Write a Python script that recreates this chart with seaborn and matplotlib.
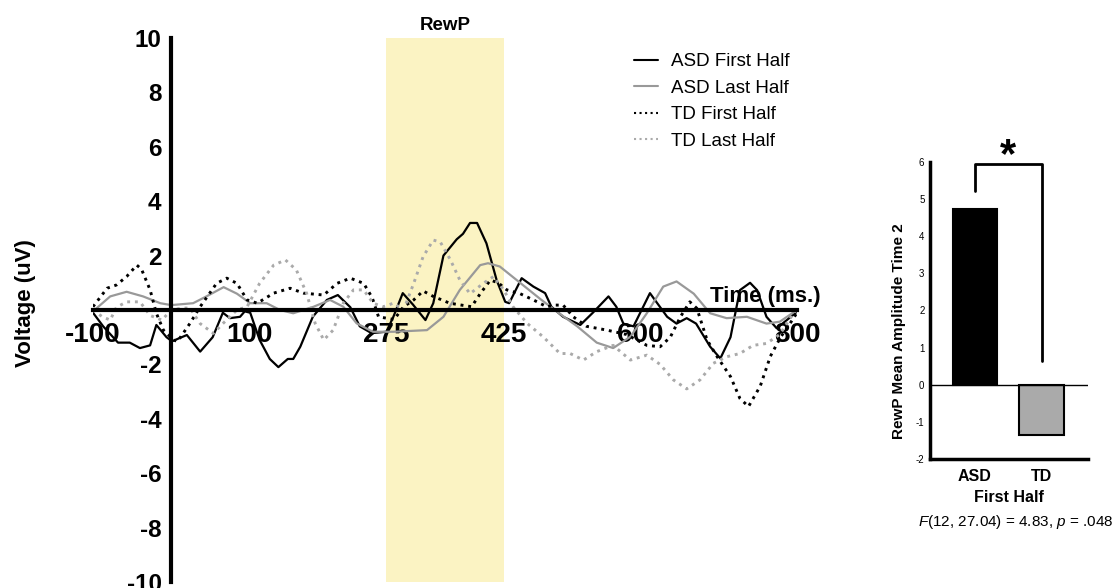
import numpy as np
import pandas as pd
import matplotlib
matplotlib.use('Agg')
import matplotlib.pyplot as plt
import seaborn as sns

# ERP waveforms (time in ms, voltage in uV)
asd_first_t = [-100, -87, -68, -53, -40, -27, -19, -6, 1, 20, 37, 53, 66, 75, 88, 94, 101, 113,
               126, 137, 149, 156, 165, 181, 199, 213, 229, 241, 256, 275, 284, 296, 309, 325,
               335, 348, 365, 373, 382, 391, 403, 416, 427, 432, 448, 463, 478, 486, 501, 523,
               539, 559, 569, 578, 591, 612, 634, 646, 659, 671, 689, 702, 715, 727, 740, 749,
               761, 774, 787, 800]
asd_first_v = [-0.1, -0.6, -1.2, -1.2, -1.4, -1.3, -0.55, -1.0, -1.15, -0.92, -1.53, -1.0, -0.1,
               -0.3, -0.25, -0.05, -0.1, -1.1, -1.8, -2.1, -1.8, -1.8, -1.35, -0.25, 0.37, 0.55,
               0.1, -0.6, -0.85, -0.8, -0.25, 0.62, 0.2, -0.37, 0.25, 2.0, 2.6, 2.8, 3.2, 3.2,
               2.45, 1.1, 0.3, 0.25, 1.17, 0.86, 0.62, 0.12, -0.25, -0.55, -0.1, 0.5, 0.12,
               -0.5, -0.6, 0.62, -0.25, -0.5, -0.3, -0.5, -1.35, -1.78, -1.0, 0.73, 1.0, 0.73,
               -0.25, -0.67, -0.37, -0.06]

asd_last_t = [-100, -78, -57, -36, -14, 0, 28, 45, 67, 84, 101, 122, 139, 156, 182, 203, 220,
              237, 258, 284, 327, 348, 369, 395, 405, 420, 446, 472, 493, 519, 544, 565, 587,
              608, 629, 646, 668, 689, 710, 736, 761, 778, 800]
asd_last_v = [-0.05, 0.5, 0.67, 0.5, 0.25, 0.18, 0.25, 0.5, 0.84, 0.6, 0.25, 0.25, 0.0, -0.12,
              0.12, 0.37, 0.12, -0.49, -0.8, -0.8, -0.74, -0.25, 0.74, 1.65, 1.72, 1.6, 1.0,
              0.4, -0.06, -0.6, -1.2, -1.4, -0.98, -0.12, 0.86, 1.05, 0.6, -0.12, -0.3, -0.25,
              -0.5, -0.43, 0.0]

td_first_t = [-100, -82, -70, -57, -44, -38, -27, -19, -10, 3, 8, 24, 37, 58, 71, 84, 97, 110,
              131, 152, 169, 195, 212, 229, 246, 257, 265, 285, 297, 310, 322, 335, 356, 384,
              395, 408, 418, 429, 446, 463, 480, 491, 501, 514, 531, 557, 582, 608, 625, 638,
              651, 663, 672, 685, 698, 715, 727, 738, 753, 766, 779, 791, 800]
td_first_v = [0.12, 0.8, 0.92, 1.23, 1.65, 1.5, 0.74, -0.12, -0.74, -1.1, -1.16, -0.49, 0.12,
              0.98, 1.17, 0.98, 0.37, 0.25, 0.62, 0.8, 0.62, 0.55, 0.98, 1.17, 0.98, 0.45,
              -0.25, -0.35, 0.12, 0.37, 0.7, 0.5, 0.25, 0.12, 0.6, 1.1, 1.0, 0.74, 0.6, 0.37,
              0.12, 0.18, 0.18, -0.25, -0.6, -0.74, -0.9, -1.3, -1.35, -1.0, -0.25, 0.3, 0.06,
              -1.1, -1.72, -2.45, -3.25, -3.55, -2.8, -1.7, -1.0, -0.5, -0.1]

td_last_t = [-100, -88, -78, -70, -57, -40, -27, -12, 0, 15, 24, 37, 54, 66, 84, 97, 113, 131,
             146, 160, 173, 184, 195, 207, 220, 233, 246, 258, 271, 284, 297, 310, 322, 335,
             344, 357, 369, 382, 399, 412, 425, 437, 455, 476, 497, 510, 527, 544, 565, 587,
             608, 625, 642, 659, 676, 693, 710, 727, 744, 761, 778, 796, 800]
td_last_v = [0.0, -0.25, -0.37, 0.1, 0.3, 0.3, -0.2, -0.37, 0.0, 0.07, 0.07, -0.5, -0.86, -0.5,
             0.0, 0.12, 0.98, 1.65, 1.84, 1.47, 0.62, -0.49, -1.1, -0.74, 0.25, 0.74, 0.74,
             0.25, 0.12, 0.25, 0.0, 0.98, 1.96, 2.57, 2.5, 1.84, 1.1, 0.6, 0.98, 1.23, 0.74,
             0.12, -0.49, -1.0, -1.6, -1.6, -1.84, -1.53, -1.3, -1.84, -1.66, -2.0, -2.57,
             -2.9, -2.57, -1.96, -1.72, -1.6, -1.3, -1.23, -0.9, -0.1, 0.0]

x_ticks = [-100, 100, 275, 425, 600, 800]
y_ticks = [-10, -8, -6, -4, -2, 2, 4, 6, 8, 10]
rewp_window = (275, 425)

# inset bar chart
groups = ['ASD', 'TD']
rewp_amp = [4.73, -1.36]
bar_colors = ['black', '#AAAAAA']

sns.set_style('white')
plt.rcParams['font.family'] = ['Liberation Sans', 'DejaVu Sans']
plt.rcParams['mathtext.fontset'] = 'custom'
plt.rcParams['mathtext.rm'] = 'Liberation Sans'
plt.rcParams['mathtext.it'] = 'Liberation Sans:italic'
plt.rcParams['axes.unicode_minus'] = False
plt.rcParams['text.color'] = 'black'
plt.rcParams['xtick.color'] = 'black'
plt.rcParams['ytick.color'] = 'black'
plt.rcParams['axes.edgecolor'] = 'black'
plt.rcParams['axes.labelcolor'] = 'black'

fig = plt.figure(figsize=(11.13, 5.88), dpi=100)
ax = fig.add_axes([93 / 1113, 1 - 582 / 588, 704 / 1113, 544 / 588])

ax.axvspan(*rewp_window, color='#FBF3C3', lw=0, zorder=0)

series = [
    (asd_first_t, asd_first_v, 'ASD First Half', 'black', '-'),
    (asd_last_t, asd_last_v, 'ASD Last Half', '#999999', '-'),
    (td_first_t, td_first_v, 'TD First Half', 'black', ':'),
    (td_last_t, td_last_v, 'TD Last Half', '#AAAAAA', ':'),
]
for t, v, lab, col, ls in series:
    lw = 1.6 if ls == '-' else 2.1
    sns.lineplot(x=t, y=v, ax=ax, color=col, linestyle=ls, lw=lw, label=lab,
                 estimator=None, sort=False, zorder=3)

ax.set_xlim(-100, 800)
ax.set_ylim(-10, 10)
for s in ['top', 'right']:
    ax.spines[s].set_visible(False)
ax.spines['left'].set_position(('data', 0))
ax.spines['bottom'].set_position(('data', 0))
for s in ['left', 'bottom']:
    ax.spines[s].set_linewidth(3)
    ax.spines[s].set_zorder(4)
ax.set_xticks(x_ticks)
ax.set_yticks(y_ticks)
ax.tick_params(axis='x', direction='out', length=5, width=3, pad=4, labelsize=20)
ax.tick_params(axis='y', direction='out', length=6, width=3, pad=1, labelsize=17.5)
for lbl in ax.get_xticklabels() + ax.get_yticklabels():
    lbl.set_fontweight('bold')
ax.set_xlabel('')
ax.set_ylabel('')

ax.text(830, 0.12, 'Time (ms.)', ha='right', va='bottom', fontsize=16, fontweight='bold')
ax.text(350, 10.15, 'RewP', ha='center', va='bottom', fontsize=13.5, fontweight='bold')
fig.text(25 / 1113, 1 - 303 / 588, 'Voltage (uV)', rotation=90, ha='center', va='center',
         fontsize=16, fontweight='bold')

leg = ax.legend(loc='upper left', bbox_to_anchor=(634 / 1113, 1 - 53 / 588),
                bbox_transform=fig.transFigure, frameon=False, fontsize=13.5,
                handlelength=1.3, handletextpad=0.65, labelspacing=0.5,
                borderpad=0, borderaxespad=0)
for h in leg.get_lines():
    h.set_linewidth(1.5)

# inset
ax2 = fig.add_axes([930 / 1113, 1 - 459.3 / 588, 158 / 1113, 297.6 / 588])
sns.barplot(x=groups, y=rewp_amp, hue=groups, palette=bar_colors, edgecolor='black',
            linewidth=1.5, width=0.67, legend=False, ax=ax2, zorder=2)
ax2.axhline(0, color='black', lw=1, zorder=3)
ax2.set_xlim(-0.675, 1.694)
ax2.set_ylim(-2, 6)
ax2.set_yticks(range(-2, 7))
for s in ['top', 'right']:
    ax2.spines[s].set_visible(False)
for s in ['left', 'bottom']:
    ax2.spines[s].set_linewidth(2.5)
ax2.tick_params(axis='y', direction='out', length=3, width=1.5, pad=1, labelsize=7)
ax2.tick_params(axis='x', direction='out', length=5, width=2.5, pad=2, labelsize=11.5)
for lbl in ax2.get_xticklabels():
    lbl.set_fontweight('bold')
ax2.set_xlabel('First Half', fontsize=11.5, fontweight='bold', labelpad=4)
ax2.set_ylabel('RewP Mean Amplitude Time 2', fontsize=11, fontweight='bold')
ax2.yaxis.set_label_coords(-0.15, 0.43)

ax2.plot([0, 0, 1, 1], [5.22, 5.94, 5.94, 0.65], color='black', lw=2, clip_on=False)
ax2.text(0.5, 5.62, '*', ha='center', va='bottom', fontsize=30, fontweight='bold')

fig.text(1016 / 1113, 1 - 522 / 588, r'$\it{F}$(12, 27.04) = 4.83, $\it{p}$ = .048',
         ha='center', va='center', fontsize=11)

fig.savefig('out.png', dpi=100)
